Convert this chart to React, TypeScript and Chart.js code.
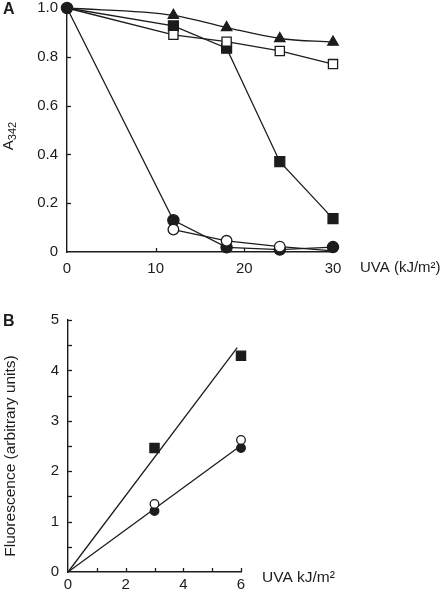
import React, { useEffect, useRef } from "react";
import { Chart, registerables } from "chart.js";
Chart.register(...registerables);

// ---- Panel A data ----
const doseA = [0, 12, 18, 24, 30];
const triFilledA = [1.0, 0.97, 0.92, 0.875, 0.86];
const sqOpenA = [1.0, 0.89, 0.862, 0.824, 0.77];
const sqFilledA = [1.0, 0.927, 0.835, 0.37, 0.137];
const circOpenA = [null, 0.092, 0.046, 0.022, 0.005];
const circFilledA = [1.0, 0.13, 0.019, 0.01, 0.02];
const yTickMarksA = [0.2, 0.4, 0.6, 0.8, 1.0];
const xTickMarksA = [10, 20, 30];

// ---- Panel B data ----
const doseB = [3, 6];
const sqFilledB = [2.46, 4.29];
const circOpenB = [1.35, 2.62];
const circFilledB = [1.21, 2.46];
const fitSqX = [0, 5.87];
const fitSqY = [0, 4.45];
const fitCircX = [0, 6];
const fitCircY = [0, 2.51];
const yTickMarksB = [0.5, 1, 1.5, 2, 2.5, 3, 3.5, 4, 4.5, 5];
const xTickMarksB = [1, 2, 3, 4, 5, 6];

const FONT = '"Liberation Sans", Arial, sans-serif';
const INK = "#1c1c1c";

const zip = (xs: number[], ys: (number | null)[]) => xs.map((x, i) => ({ x, y: ys[i] }));

const innerTicks = {
  id: "innerTicks",
  beforeDatasetsDraw(chart: any, _a: any, opts: any) {
    const { ctx, chartArea, scales } = chart;
    ctx.save();
    ctx.strokeStyle = INK;
    ctx.lineWidth = 1.3;
    const len = opts.len || 4;
    (opts.y || []).forEach((v: number) => {
      const py = Math.round(scales.y.getPixelForValue(v)) + 0.5;
      ctx.beginPath();
      ctx.moveTo(chartArea.left, py);
      ctx.lineTo(chartArea.left + len, py);
      ctx.stroke();
    });
    (opts.x || []).forEach((v: number) => {
      const px = Math.round(scales.x.getPixelForValue(v)) + 0.5;
      ctx.beginPath();
      ctx.moveTo(px, chartArea.bottom);
      ctx.lineTo(px, chartArea.bottom - len);
      ctx.stroke();
    });
    ctx.restore();
  },
};

const textLabels = {
  id: "textLabels",
  afterDraw(chart: any, _a: any, opts: any) {
    const ctx = chart.ctx;
    (opts.items || []).forEach((it: any) => {
      ctx.save();
      ctx.fillStyle = INK;
      ctx.translate(it.x, it.y);
      if (it.rotate) ctx.rotate(-Math.PI / 2);
      ctx.font = it.font;
      ctx.textBaseline = it.baseline || "middle";
      if (it.sub) {
        ctx.textAlign = "left";
        const w1 = ctx.measureText(it.text).width;
        ctx.font = it.subFont;
        const w2 = ctx.measureText(it.sub).width;
        const start = -(w1 + w2) / 2;
        ctx.font = it.font;
        ctx.fillText(it.text, start, 0);
        ctx.font = it.subFont;
        ctx.fillText(it.sub, start + w1, 3);
      } else {
        ctx.textAlign = it.align || "left";
        ctx.fillText(it.text, 0, 0);
      }
      ctx.restore();
    });
  },
};

function lineDs(data: any[], style: string, radius: any, filled: boolean, extra: any = {}) {
  return {
    data,
    borderColor: INK,
    borderWidth: 1.3,
    backgroundColor: filled ? INK : "#ffffff",
    pointBackgroundColor: filled ? INK : "#ffffff",
    pointBorderColor: INK,
    pointBorderWidth: 1.3,
    pointStyle: style,
    pointRadius: radius,
    pointHoverRadius: radius,
    fill: false,
    tension: 0,
    clip: false,
    spanGaps: false,
    ...extra,
  };
}

function axisCommon(width: number | null, height: number | null) {
  return {
    grid: { display: false, drawTicks: false },
    border: { display: true, color: INK, width: 1.4 },
    afterFit: (s: any) => {
      if (width !== null) s.width = width;
      if (height !== null) s.height = height;
    },
  };
}

export default function App() {
  const refA = useRef<HTMLCanvasElement>(null);
  const refB = useRef<HTMLCanvasElement>(null);

  useEffect(() => {
    const tickFont = { family: FONT, size: 15 };
    const chartA = new Chart(refA.current as HTMLCanvasElement, {
      type: "line",
      data: {
        datasets: [
          lineDs(zip(doseA, circOpenA), "circle", [5.3, 5.3, 5.3, 5.3, 0], false),
          lineDs(zip(doseA, circFilledA), "circle", 5.6, true),
          lineDs(zip(doseA, sqOpenA), "rect", [0, 6.5, 6.5, 6.5, 6.5], false),
          lineDs(zip(doseA, sqFilledA), "rect", [0, 7, 7, 7, 7], true),
          lineDs(zip(doseA, triFilledA), "triangle", [0, 6, 6, 6, 6], true, { cubicInterpolationMode: "monotone" }),
        ] as any,
      },
      options: {
        responsive: false,
        devicePixelRatio: 1,
        animation: false,
        events: [],
        layout: { padding: { top: 16, right: 113, bottom: 0, left: 0 } },
        plugins: {
          legend: { display: false },
          tooltip: { enabled: false },
          innerTicks: { x: xTickMarksA, y: yTickMarksA, len: 4 },
          textLabels: {
            items: [
              { text: "A", x: 3, y: 20, font: `bold 16px ${FONT}` },
              { text: "A", sub: "342", x: 13, y: 146, rotate: true, baseline: "alphabetic", font: `15px ${FONT}`, subFont: `11px ${FONT}` },
              { text: "UVA (kJ/m²)", x: 360, y: 278, font: `15px ${FONT}` },
            ],
          },
        } as any,
        scales: {
          x: {
            type: "linear",
            min: 0,
            max: 30,
            ticks: { stepSize: 10, color: INK, font: tickFont, padding: 8, maxRotation: 0 },
            ...axisCommon(null, 28),
          },
          y: {
            type: "linear",
            min: 0,
            max: 1,
            ticks: {
              stepSize: 0.2,
              color: INK,
              font: tickFont,
              padding: 9,
              callback: (v: any) => (v === 0 ? "0" : Number(v).toFixed(1)),
            },
            ...axisCommon(67, null),
          },
        } as any,
      },
      plugins: [innerTicks, textLabels],
    });

    const chartB = new Chart(refB.current as HTMLCanvasElement, {
      type: "line",
      data: {
        datasets: [
          lineDs(zip(doseB, circOpenB), "circle", 4.3, false, { showLine: false }),
          lineDs(zip(doseB, circFilledB), "circle", 4.3, true, { showLine: false }),
          lineDs(zip(doseB, sqFilledB), "rect", 6.5, true, { showLine: false }),
          lineDs(zip(fitSqX, fitSqY), "circle", 0, true),
          lineDs(zip(fitCircX, fitCircY), "circle", 0, true),
        ] as any,
      },
      options: {
        responsive: false,
        devicePixelRatio: 1,
        animation: false,
        events: [],
        layout: { padding: { top: 40, right: 205, bottom: 0, left: 0 } },
        plugins: {
          legend: { display: false },
          tooltip: { enabled: false },
          innerTicks: { x: xTickMarksB, y: yTickMarksB, len: 4 },
          textLabels: {
            items: [
              { text: "B", x: 3, y: 42, font: `bold 16px ${FONT}` },
              { text: "Fluorescence (arbitrary units)", x: 15, y: 176, rotate: true, align: "center", baseline: "alphabetic", font: `15.5px ${FONT}` },
              { text: "UVA kJ/m²", x: 262, y: 298, font: `15.5px ${FONT}` },
            ],
          },
        } as any,
        scales: {
          x: {
            type: "linear",
            min: 0,
            max: 6,
            ticks: { stepSize: 2, color: INK, font: tickFont, padding: 4, maxRotation: 0 },
            ...axisCommon(null, 20),
          },
          y: {
            type: "linear",
            min: 0,
            max: 5,
            ticks: { stepSize: 1, color: INK, font: tickFont, padding: 9 },
            ...axisCommon(68, null),
          },
        } as any,
      },
      plugins: [innerTicks, textLabels],
    });

    return () => {
      chartA.destroy();
      chartB.destroy();
    };
  }, []);

  return (
    <div
      style={{
        position: "fixed",
        left: 0,
        top: 0,
        width: 446,
        height: 592,
        background: "#ffffff",
        overflow: "hidden",
      }}
    >
      <canvas
        ref={refA}
        width={446}
        height={290}
        style={{ position: "absolute", left: 0, top: -10, width: 446, height: 290 }}
      />
      <canvas
        ref={refB}
        width={446}
        height={312}
        style={{ position: "absolute", left: 0, top: 280, width: 446, height: 312 }}
      />
    </div>
  );
}
